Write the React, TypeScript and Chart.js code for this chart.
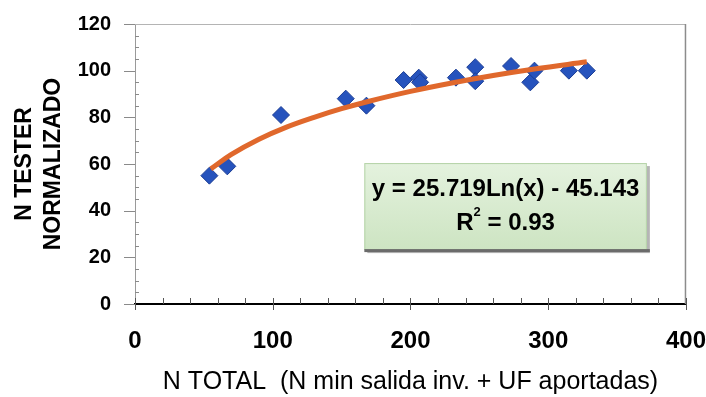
import React, { useEffect, useRef } from 'react';
import { Chart, registerables } from 'chart.js';

Chart.register(...registerables);

const observedX = [54, 67, 106, 153, 168, 195, 206, 207, 233, 247, 247, 273, 287, 290, 315, 328];
const observedY = [55, 59, 81, 88, 85, 96, 97, 95, 97, 101.5, 95.5, 102, 95, 100, 100, 100];

// Logarithmic trend line
const trendX = [55, 70, 90, 110, 130, 150, 170, 200, 230, 260, 290, 328];
const trendY = [57.9, 64.1, 70.6, 75.8, 80.0, 83.7, 86.9, 91.1, 94.7, 97.9, 100.7, 103.8];

// Axis ticks
const xTickValues = [0, 100, 200, 300, 400];
const yTickValues = [0, 20, 40, 60, 80, 100, 120];
const xMinorStep = 20;
const yMinorStep = 5;

const xTitle = 'N TOTAL  (N min salida inv. + UF aportadas)';
const yTitle = ['N TESTER', 'NORMALIZADO'];
const equationText = 'y = 25.719Ln(x) - 45.143';
const r2Label = 'R';
const r2Sup = '2';
const r2Value = ' = 0.93';

// Equation box in data units
const eqBoxX = [166.5, 371.6];
const eqBoxY = [23.1, 60.4];

const FONT = '"Liberation Sans", Arial, sans-serif';

const decorPlugin = {
  id: 'decor',
  beforeDatasetsDraw(chart: any) {
    const { ctx, chartArea, scales } = chart;
    const x = scales.x;
    const y = scales.y;
    ctx.save();
    ctx.strokeStyle = '#b4b4b4';
    ctx.lineWidth = 1;
    ctx.beginPath();
    ctx.moveTo(chartArea.left, chartArea.top + 0.5);
    ctx.lineTo(chartArea.right, chartArea.top + 0.5);
    ctx.stroke();
    ctx.strokeStyle = '#8c8c8c';
    ctx.lineWidth = 1.5;
    ctx.beginPath();
    ctx.moveTo(chartArea.right - 0.5, chartArea.top);
    ctx.lineTo(chartArea.right - 0.5, chartArea.bottom);
    ctx.stroke();

    ctx.strokeStyle = '#555';
    ctx.lineWidth = 1;
    for (let v = x.min; v <= x.max + 1e-6; v += xMinorStep) {
      const px = Math.round(x.getPixelForValue(v)) + 0.5;
      const major = xTickValues.includes(v);
      ctx.beginPath();
      ctx.moveTo(px, chartArea.bottom - 6);
      ctx.lineTo(px, chartArea.bottom + (major ? 6 : 0));
      ctx.stroke();
    }
    ctx.strokeStyle = '#8a8a8a';
    for (let v = y.min; v <= y.max + 1e-6; v += yMinorStep) {
      const py = Math.round(y.getPixelForValue(v)) + 0.5;
      const major = yTickValues.includes(v);
      ctx.beginPath();
      if (major) {
        ctx.moveTo(chartArea.left - 11, py);
        ctx.lineTo(chartArea.left, py);
      } else {
        ctx.moveTo(chartArea.left, py);
        ctx.lineTo(chartArea.left + 4, py);
      }
      ctx.stroke();
    }
    ctx.restore();
  },
  afterDatasetsDraw(chart: any) {
    const { ctx, scales } = chart;
    const x = scales.x;
    const y = scales.y;
    const bx0 = x.getPixelForValue(eqBoxX[0]);
    const bx1 = x.getPixelForValue(eqBoxX[1]);
    const by0 = y.getPixelForValue(eqBoxY[1]);
    const by1 = y.getPixelForValue(eqBoxY[0]);
    const w = bx1 - bx0;
    const h = by1 - by0;
    ctx.save();
    ctx.fillStyle = 'rgba(120,120,120,0.55)';
    ctx.fillRect(bx0 + 3, by0 + 3, w, h);
    const g = ctx.createLinearGradient(0, by0, 0, by1);
    g.addColorStop(0, '#e4f2de');
    g.addColorStop(1, '#cde4c2');
    ctx.fillStyle = g;
    ctx.fillRect(bx0, by0, w, h);
    ctx.strokeStyle = '#b5d3a8';
    ctx.lineWidth = 1;
    ctx.strokeRect(bx0 + 0.5, by0 + 0.5, w - 1, h - 1);
    ctx.fillStyle = '#6b6b6b';
    ctx.fillRect(bx0, by1 - 1, w + 3, 3);

    const cx = (bx0 + bx1) / 2;
    ctx.fillStyle = '#000';
    ctx.textBaseline = 'middle';
    ctx.textAlign = 'center';
    ctx.font = `bold 24px ${FONT}`;
    ctx.fillText(equationText, cx, by0 + 26);

    ctx.textAlign = 'left';
    const mainFont = `bold 24px ${FONT}`;
    const supFont = `bold 13px ${FONT}`;
    ctx.font = mainFont;
    const wR = ctx.measureText(r2Label).width;
    const wV = ctx.measureText(r2Value).width;
    ctx.font = supFont;
    const wS = ctx.measureText(r2Sup).width;
    let sx = cx - (wR + wS + wV) / 2;
    const ly = by0 + 60;
    ctx.font = mainFont;
    ctx.fillText(r2Label, sx, ly);
    sx += wR;
    ctx.font = supFont;
    ctx.fillText(r2Sup, sx, ly - 11);
    sx += wS;
    ctx.font = mainFont;
    ctx.fillText(r2Value, sx, ly);
    ctx.restore();
  },
};

export default function App() {
  const canvasRef = useRef<HTMLCanvasElement | null>(null);

  useEffect(() => {
    if (!canvasRef.current) return;
    const chart = new Chart(canvasRef.current, {
      type: 'scatter',
      data: {
        datasets: [
          {
            type: 'line',
            label: 'trend',
            data: trendX.map((v, i) => ({ x: v, y: trendY[i] })),
            borderColor: '#e0682c',
            borderWidth: 5,
            pointRadius: 0,
            tension: 0.4,
            fill: false,
            order: 0,
          } as any,
          {
            type: 'scatter',
            label: 'data',
            data: observedX.map((v, i) => ({ x: v, y: observedY[i] })),
            pointStyle: 'rectRot',
            pointRadius: 8.5,
            pointBackgroundColor: '#2653bd',
            pointBorderColor: '#1b3d94',
            pointBorderWidth: 1,
            order: 1,
          } as any,
        ],
      },
      options: {
        responsive: false,
        animation: false,
        layout: { padding: { top: 24, right: 0, left: 0, bottom: 0 } },
        plugins: {
          legend: { display: false },
          tooltip: { enabled: false },
        },
        scales: {
          x: {
            type: 'linear',
            min: 0,
            max: 400,
            afterBuildTicks: (s: any) => {
              s.ticks = xTickValues.map((v) => ({ value: v }));
            },
            ticks: {
              color: '#000',
              font: { family: FONT, size: 24, weight: 'bold' },
              padding: 0,
              maxRotation: 0,
            },
            grid: { drawOnChartArea: false, drawTicks: true, tickLength: 23, tickColor: 'rgba(0,0,0,0)' },
            border: { color: '#000', width: 2 },
            title: {
              display: true,
              text: xTitle,
              color: '#000',
              font: { family: FONT, size: 25, weight: 'normal' },
              padding: { top: 0, bottom: 0 },
            },
            afterFit: (s: any) => {
              s.height = 93;
            },
          },
          y: {
            type: 'linear',
            min: 0,
            max: 120,
            afterBuildTicks: (s: any) => {
              s.ticks = yTickValues.map((v) => ({ value: v }));
            },
            ticks: {
              color: '#000',
              font: { family: FONT, size: 20, weight: 'bold' },
              padding: 0,
            },
            grid: { drawOnChartArea: false, drawTicks: true, tickLength: 24, tickColor: 'rgba(0,0,0,0)' },
            border: { color: '#9a9a9a', width: 1 },
            title: {
              display: true,
              text: yTitle,
              color: '#000',
              font: { family: FONT, size: 23, weight: 'bold', lineHeight: '29px' },
              padding: { top: 10, bottom: 0 },
            },
            afterFit: (s: any) => {
              s.width = 135;
            },
          },
        },
      } as any,
      plugins: [decorPlugin],
    });
    return () => chart.destroy();
  }, []);

  return (
    <div style={{ position: 'absolute', left: 0, top: 0, width: 706, height: 397, background: '#fff' }}>
      <canvas ref={canvasRef} width={706} height={397} />
    </div>
  );
}
